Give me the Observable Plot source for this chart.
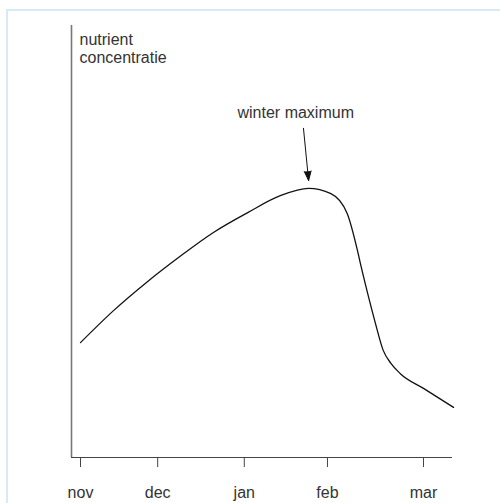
<!DOCTYPE html>
<html>
<head>
<meta charset="utf-8">
<script src="https://cdn.jsdelivr.net/npm/d3@7"></script>
<script src="https://cdn.jsdelivr.net/npm/@observablehq/plot@0.6"></script>
<style>
  html, body { margin: 0; padding: 0; background: #fff; overflow: hidden; }
  #frame { position: absolute; left: 6px; top: 9px; width: 600px; height: 600px; border-left: 2px solid #d6eaf8; border-top: 2px solid #d6eaf8; }
  #chart { position: absolute; left: 0; top: 0; }
</style>
</head>
<body>
<div id="frame"></div>
<div id="chart"></div>
<script>
// Month ticks (x in months since 1 Nov)
const monthLabels = ["nov", "dec", "jan", "feb", "mar"];
const monthPos = [0, 0.90, 1.91, 2.88, 4.0];

// Nutrient concentration curve (arbitrary units 0–100)
const curveX = [0, 0.385, 0.78, 1.17, 1.55, 1.95, 2.33, 2.66, 2.92, 3.11, 3.23, 3.27, 3.37, 3.44, 3.53, 3.62, 3.73, 4.0, 4.35];
const curveY = [26.6, 34.0, 40.7, 46.7, 52.1, 56.7, 60.6, 62.3, 61.1, 56.5, 47.9, 44.4, 36.3, 31.0, 24.8, 21.8, 19.4, 16.0, 11.6];

// Axis extent
const xExtent = [-0.105, 4.338];
const yExtent = [0, 100];

// Annotation
const annotationText = ["winter maximum"];
const annotationPos = [2.51, 78.7];
const arrowFrom = [2.60, 76.2];
const arrowTo = [2.66, 64.1];
const yTitle = "nutrient\nconcentratie";

const curve = curveX.map((x, i) => ({x, y: curveY[i]}));

const chart = Plot.plot({
  width: 500,
  height: 503,
  marginLeft: 71,
  marginRight: 48,
  marginTop: 25,
  marginBottom: 46,
  style: {fontFamily: "'Liberation Sans', Arial, sans-serif", fontSize: "16px", background: "transparent", color: "#222"},
  x: {domain: xExtent, axis: null, label: null},
  y: {domain: yExtent, axis: null, label: null},
  marks: [
    Plot.axisX({ticks: monthPos, tickFormat: (d, i) => monthLabels[i], tickSize: 10, tickPadding: 19, stroke: "#444", fill: "#333", fontSize: 16, label: null}),
    Plot.ruleX([xExtent[0]], {stroke: "#777", strokeWidth: 1.6}),
    Plot.ruleY([yExtent[0]], {stroke: "#444", strokeWidth: 1.2}),
    Plot.line(curve, {x: "x", y: "y", curve: "monotone-x", stroke: "#111", strokeWidth: 1.3}),
    Plot.text([yTitle], {frameAnchor: "top-left", textAnchor: "start", lineAnchor: "top", dx: 8, dy: 6, lineHeight: 1.15, fill: "#333", fontSize: 16}),
    Plot.text(annotationText, {x: () => annotationPos[0], y: () => annotationPos[1], textAnchor: "middle", lineAnchor: "bottom", fill: "#333", fontSize: 16}),
    Plot.arrow([0], {x1: () => arrowFrom[0], y1: () => arrowFrom[1], x2: () => arrowTo[0], y2: () => arrowTo[1], stroke: "#111", fill: "#111", strokeWidth: 1, headLength: 15, headAngle: 40})
  ]
});
document.getElementById("chart").appendChild(chart);
</script>
</body>
</html>
